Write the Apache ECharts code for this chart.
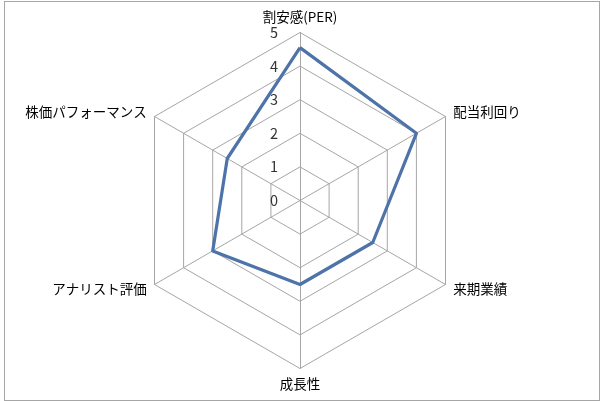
<!DOCTYPE html>
<html>
<head>
<meta charset="utf-8">
<script src="https://cdn.jsdelivr.net/npm/echarts@6/dist/echarts.min.js"></script>
<style>
html,body{margin:0;padding:0;background:#fff;}
#c{position:absolute;left:0;top:0;width:600px;height:401px;}
#frame{position:absolute;left:4px;top:1px;width:594px;height:398px;border:1px solid #a6a6a6;pointer-events:none;}
</style>
</head>
<body>
<div id="c"></div>
<div id="frame"></div>
<script>
// Indicators in drawing order (counter-clockwise from top)
const categories = ['割安感(PER)', '株価パフォーマンス', 'アナリスト評価', '成長性', '来期業績', '配当利回り'];
const scoreValues = [4.55, 2.5, 3.0, 2.5, 2.5, 4.0];
const tickLabels = ['0', '1', '2', '3', '4', '5'];
const axisMin = 0, axisMax = 5;

const chart = echarts.init(document.getElementById('c'), null, {renderer: 'canvas'});
const font = '"Noto Sans CJK JP", "Noto Sans", sans-serif';
chart.setOption({
  animation: false,
  backgroundColor: '#ffffff',
  radar: {
    center: ['50%', '50%'],
    radius: 168,
    startAngle: 90,
    shape: 'polygon',
    splitNumber: tickLabels.length - 1,
    axisNameGap: 9,
    axisName: {color: '#000', fontSize: 13.5, fontFamily: font},
    splitLine: {lineStyle: {color: '#a6a6a6', width: 1}},
    splitArea: {show: false},
    axisLine: {lineStyle: {color: '#a6a6a6', width: 1}},
    axisTick: {show: false},
    axisLabel: {show: false},
    indicator: categories.map((name, i) => {
      const ind = {name: name, min: axisMin, max: axisMax};
      if (i === 0) {
        ind.axisLabel = {
          show: true, color: '#333', fontSize: 14.5, fontFamily: font, margin: 22,
          formatter: v => tickLabels[Math.round(v)]
        };
      }
      return ind;
    })
  },
  series: [{
    type: 'radar',
    symbol: 'none',
    data: [{value: scoreValues, name: 'score'}],
    lineStyle: {color: '#4d73a8', width: 3.2},
    itemStyle: {color: '#4d73a8'}
  }]
});
</script>
</body>
</html>
